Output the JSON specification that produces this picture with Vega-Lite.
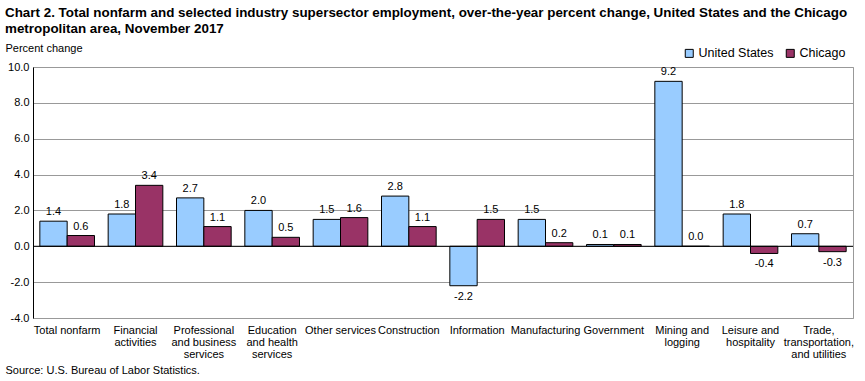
{
  "$schema": "https://vega.github.io/schema/vega-lite/v6.json",
  "width": 820,
  "height": 251,
  "autosize": {"type": "none"},
  "padding": {"left": 33, "top": 67, "right": 12, "bottom": 63},
  "background": "white",
  "config": {
    "font": "Liberation Sans",
    "view": {"stroke": "#999999", "strokeWidth": 1},
    "locale": {"number": {"decimal": ".", "thousands": ",", "grouping": [3], "currency": ["$", ""], "minus": "-"}}
  },
  "title": {
    "text": ["Chart 2. Total nonfarm and selected industry  supersector  employment, over-the-year percent change, United States and the Chicago", "metropolitan area, November 2017"],
    "anchor": "start",
    "frame": "group",
    "dx": -28,
    "offset": 7,
    "font": "Liberation Sans",
    "fontSize": 13.4,
    "fontWeight": "bold",
    "lineHeight": 16,
    "color": "black"
  },
  "data": {
    "values": [
      {"category": "Total nonfarm", "area": "United States", "value": 1.4},
      {"category": "Total nonfarm", "area": "Chicago", "value": 0.6},
      {"category": "Financial activities", "area": "United States", "value": 1.8},
      {"category": "Financial activities", "area": "Chicago", "value": 3.4},
      {"category": "Professional and business services", "area": "United States", "value": 2.7},
      {"category": "Professional and business services", "area": "Chicago", "value": 1.1},
      {"category": "Education and health services", "area": "United States", "value": 2.0},
      {"category": "Education and health services", "area": "Chicago", "value": 0.5},
      {"category": "Other services", "area": "United States", "value": 1.5},
      {"category": "Other services", "area": "Chicago", "value": 1.6},
      {"category": "Construction", "area": "United States", "value": 2.8},
      {"category": "Construction", "area": "Chicago", "value": 1.1},
      {"category": "Information", "area": "United States", "value": -2.2},
      {"category": "Information", "area": "Chicago", "value": 1.5},
      {"category": "Manufacturing", "area": "United States", "value": 1.5},
      {"category": "Manufacturing", "area": "Chicago", "value": 0.2},
      {"category": "Government", "area": "United States", "value": 0.1},
      {"category": "Government", "area": "Chicago", "value": 0.1},
      {"category": "Mining and logging", "area": "United States", "value": 9.2},
      {"category": "Mining and logging", "area": "Chicago", "value": 0.0},
      {"category": "Leisure and hospitality", "area": "United States", "value": 1.8},
      {"category": "Leisure and hospitality", "area": "Chicago", "value": -0.4},
      {"category": "Trade, transportation, and utilities", "area": "United States", "value": 0.7},
      {"category": "Trade, transportation, and utilities", "area": "Chicago", "value": -0.3}
    ]
  },
  "encoding": {
    "x": {
      "field": "category",
      "type": "nominal",
      "sort": null,
      "scale": {"paddingInner": 0.2, "paddingOuter": 0.1},
      "axis": {
        "labelAngle": 0,
        "labelPadding": 6,
        "labelBaseline": "top",
        "labelFont": "Liberation Sans",
        "labelFontSize": 11,
        "labelColor": "black",
        "labelLineHeight": 12,
        "labelLimit": 200,
        "ticks": false,
        "domain": false,
        "labelExpr": "({'Financial activities': ['Financial', 'activities'], 'Professional and business services': ['Professional', 'and business', 'services'], 'Education and health services': ['Education', 'and health', 'services'], 'Mining and logging': ['Mining and', 'logging'], 'Leisure and hospitality': ['Leisure and', 'hospitality'], 'Trade, transportation, and utilities': ['Trade,', 'transportation,', 'and utilities']})[datum.label] || datum.label",
        "title": "Source: U.S. Bureau of Labor Statistics.",
        "titleX": -28,
        "titleY": 52,
        "titleAnchor": "start",
        "titleAlign": "left",
        "titleBaseline": "middle",
        "titleFont": "Liberation Sans",
        "titleFontSize": 11,
        "titleFontWeight": "normal",
        "titleColor": "black"
      }
    },
    "xOffset": {"field": "area", "type": "nominal", "sort": ["United States", "Chicago"]},
    "y": {
      "field": "value",
      "type": "quantitative",
      "scale": {"domain": [-4, 10], "nice": false},
      "axis": {
        "values": [-4, -2, 0, 2, 4, 6, 8, 10],
        "format": ".1f",
        "labelFont": "Liberation Sans",
        "labelFontSize": 11,
        "labelColor": "black",
        "labelPadding": 4,
        "ticks": false,
        "domainColor": "black",
        "gridColor": "#999999",
        "title": "Percent change",
        "titleAngle": 0,
        "titleX": -28,
        "titleY": -19,
        "titleAlign": "left",
        "titleBaseline": "middle",
        "titleFont": "Liberation Sans",
        "titleFontSize": 11,
        "titleFontWeight": "normal",
        "titleColor": "black"
      }
    }
  },
  "layer": [
    {
      "mark": {"type": "bar", "stroke": "black", "strokeWidth": 1},
      "encoding": {
        "color": {
          "field": "area",
          "type": "nominal",
          "scale": {"domain": ["United States", "Chicago"], "range": ["#99CCFF", "#993366"]},
          "legend": {
            "orient": "none",
            "legendX": 650,
            "legendY": -20,
            "direction": "horizontal",
            "title": null,
            "symbolType": "square",
            "symbolSize": 64,
            "symbolStrokeColor": "black",
            "symbolStrokeWidth": 1,
            "labelFont": "Liberation Sans",
            "labelFontSize": 12.5,
            "labelColor": "black",
            "labelOffset": 3,
            "columnPadding": 10
          }
        }
      }
    },
    {
      "transform": [{"filter": "datum.value >= 0"}],
      "mark": {"type": "text", "baseline": "bottom", "dy": -4, "fontSize": 11, "font": "Liberation Sans", "color": "black"},
      "encoding": {"text": {"field": "value", "type": "quantitative", "format": ".1f"}}
    },
    {
      "transform": [{"filter": "datum.value < 0"}],
      "mark": {"type": "text", "baseline": "top", "dy": 5, "fontSize": 11, "font": "Liberation Sans", "color": "black"},
      "encoding": {"text": {"field": "value", "type": "quantitative", "format": ".1f"}}
    },
    {
      "data": {"values": [{"zero": 0}]},
      "mark": {"type": "rule", "color": "black", "strokeWidth": 1},
      "encoding": {"y": {"field": "zero", "type": "quantitative"}, "x": null, "xOffset": null}
    }
  ]
}
